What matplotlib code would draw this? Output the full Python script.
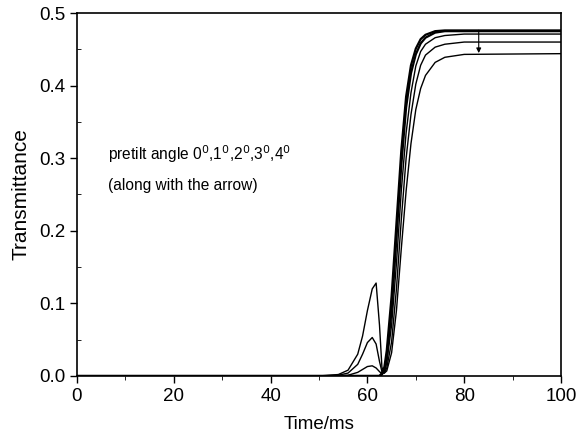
import matplotlib
matplotlib.use("Agg")
import matplotlib.pyplot as plt
from matplotlib.ticker import MultipleLocator, FormatStrFormatter

plt.rcParams['font.family'] = ['Liberation Sans', 'DejaVu Sans']

# time samples (ms)
time_ms = [0, 50, 54, 56, 58, 59, 60, 61, 61.8, 62.5, 63, 63.5, 64, 65, 66, 67, 68, 69, 70, 71, 72, 74, 76, 80, 100]

# transmittance for the five pretilt angles 0,1,2,3,4 deg
t_0deg = [0, 0, 0, 0, 0, 0, 0, 0, 0, 0, 0.004, 0.012, 0.035, 0.11, 0.21, 0.31, 0.385, 0.428, 0.451, 0.464, 0.470, 0.475, 0.476, 0.476, 0.476]
t_1deg = [0, 0, 0, 0, 0, 0, 0, 0, 0, 0, 0.002, 0.008, 0.026, 0.09, 0.19, 0.29, 0.37, 0.417, 0.443, 0.458, 0.466, 0.473, 0.475, 0.475, 0.475]
t_2deg = [0, 0, 0, 0.001, 0.005, 0.009, 0.013, 0.014, 0.011, 0.006, 0.003, 0.005, 0.018, 0.07, 0.155, 0.255, 0.335, 0.39, 0.427, 0.447, 0.457, 0.466, 0.469, 0.471, 0.471]
t_3deg = [0, 0, 0.001, 0.004, 0.016, 0.03, 0.046, 0.053, 0.044, 0.02, 0.006, 0.004, 0.011, 0.047, 0.12, 0.215, 0.3, 0.36, 0.402, 0.428, 0.442, 0.453, 0.457, 0.46, 0.46]
t_4deg = [0, 0, 0.002, 0.008, 0.03, 0.055, 0.09, 0.12, 0.128, 0.07, 0.012, 0.004, 0.007, 0.032, 0.09, 0.175, 0.255, 0.32, 0.367, 0.396, 0.414, 0.432, 0.439, 0.443, 0.444]

curves = [t_0deg, t_1deg, t_2deg, t_3deg, t_4deg]
widths = [1.6, 1.6, 1.0, 1.0, 1.0]

fig = plt.figure(figsize=(5.77, 4.44), dpi=100)
ax = fig.add_axes([0.1334, 0.1532, 0.8389, 0.8175])

for vals, lw in zip(curves, widths):
    ax.plot(time_ms, vals, color='black', lw=lw)

ax.annotate('', xy=(83, 0.441), xytext=(83, 0.480),
            arrowprops=dict(arrowstyle='-|>', color='black', lw=0.8, mutation_scale=7))

ax.text(6.4, 0.305, 'pretilt angle 0$^0$,1$^0$,2$^0$,3$^0$,4$^0$', fontsize=11.2, va='center')
ax.text(6.4, 0.263, '(along with the arrow)', fontsize=11.2, va='center')

ax.set_xlim(0, 100)
ax.set_ylim(0, 0.5)
ax.xaxis.set_major_locator(MultipleLocator(20))
ax.xaxis.set_minor_locator(MultipleLocator(10))
ax.yaxis.set_major_locator(MultipleLocator(0.1))
ax.yaxis.set_minor_locator(MultipleLocator(0.05))
ax.yaxis.set_major_formatter(FormatStrFormatter('%.1f'))
ax.tick_params(which='major', direction='out', length=5, width=1, labelsize=13.5)
ax.tick_params(axis='x', which='minor', direction='out', length=3)
ax.tick_params(axis='y', which='minor', direction='in', length=3)
for s in ax.spines.values():
    s.set_linewidth(1.2)

ax.set_xlabel('Time/ms', fontsize=13.5, labelpad=8)
ax.set_ylabel('Transmittance', fontsize=15, labelpad=6)

fig.savefig('out.png', dpi=100)
